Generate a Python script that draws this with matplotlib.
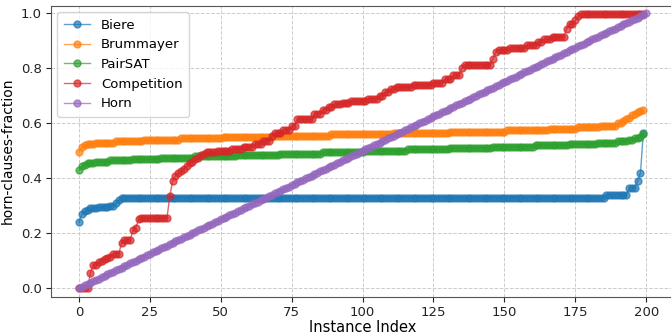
import numpy as np
import matplotlib
matplotlib.use("Agg")
import matplotlib.pyplot as plt

# Run-length encoded sorted series (level, repeat count)
biere_levels = [0.24, 0.27, 0.28, 0.285, 0.29, 0.295, 0.30, 0.31, 0.32, 0.33, 0.34, 0.365, 0.39, 0.42, 0.565]
biere_counts = [1, 1, 1, 1, 3, 4, 2, 1, 1, 171, 8, 3, 1, 1, 1]

brum_levels = [0.495, 0.515, 0.52, 0.525, 0.53, 0.535, 0.54, 0.545, 0.55, 0.555, 0.56, 0.565, 0.57,
               0.575, 0.58, 0.585, 0.59, 0.60, 0.61, 0.615, 0.62, 0.63, 0.635, 0.64, 0.645, 0.65]
brum_counts = [1, 1, 1, 3, 7, 10, 13, 15, 18, 20, 22, 20, 20, 15, 10, 8, 6, 2, 1, 1, 1, 1, 1, 1, 1, 1]

pair_levels = [0.43, 0.445, 0.45, 0.455, 0.46, 0.465, 0.47, 0.475, 0.48, 0.485, 0.49, 0.495, 0.50,
               0.505, 0.51, 0.515, 0.52, 0.525, 0.53, 0.535, 0.54, 0.545, 0.55, 0.56]
pair_counts = [1, 1, 1, 3, 5, 8, 10, 12, 15, 15, 15, 15, 15, 15, 15, 15, 12, 10, 7, 4, 2, 2, 1, 1]

comp_levels = [0.0, 0.055, 0.085, 0.095, 0.10, 0.105, 0.11, 0.115, 0.125, 0.165, 0.175, 0.21, 0.22,
               0.25, 0.255, 0.335, 0.39, 0.41, 0.42, 0.425, 0.435, 0.445, 0.455, 0.46, 0.47, 0.475,
               0.485, 0.49, 0.495, 0.50, 0.505, 0.515, 0.525, 0.535, 0.555, 0.565, 0.575, 0.59,
               0.615, 0.635, 0.65, 0.66, 0.67, 0.675, 0.68, 0.69, 0.70, 0.715, 0.725, 0.732, 0.74,
               0.748, 0.76, 0.775, 0.80, 0.814, 0.835, 0.86, 0.868, 0.875, 0.885, 0.895, 0.905,
               0.915, 0.945, 0.96, 0.975, 0.99, 0.998]
comp_counts = [4, 1, 2, 1, 1, 1, 1, 1, 3, 1, 3, 1, 1,
               1, 10, 1, 1, 1, 1, 1, 1, 1, 1, 1, 1, 1,
               1, 1, 4, 5, 4, 4, 3, 3, 1, 3, 3, 2,
               6, 3, 2, 2, 3, 3, 6, 4, 2, 2, 2, 6, 7,
               4, 3, 3, 1, 10, 1, 1, 4, 6, 4, 2, 3,
               5, 1, 2, 1, 1, 23]

horn_values = [
    0.0, .005, .01, .015, .02, .025, .03, .035, .04, .045,
    .05, .055, .06, .065, .07, .075, .08, .085, .09, .095,
    .10, .105, .11, .115, .12, .125, .13, .135, .14, .145,
    .15, .155, .16, .165, .17, .175, .18, .185, .19, .195,
    .20, .205, .21, .215, .22, .225, .23, .235, .24, .245,
    .25, .255, .26, .265, .27, .275, .28, .285, .29, .295,
    .30, .305, .31, .315, .32, .325, .33, .335, .34, .345,
    .35, .355, .36, .365, .37, .375, .38, .385, .39, .395,
    .40, .405, .41, .415, .42, .425, .43, .435, .44, .445,
    .45, .455, .46, .465, .47, .475, .48, .485, .49, .495,
    .50, .505, .51, .515, .52, .525, .53, .535, .54, .545,
    .55, .555, .56, .565, .57, .575, .58, .585, .59, .595,
    .60, .605, .61, .615, .62, .625, .63, .635, .64, .645,
    .65, .655, .66, .665, .67, .675, .68, .685, .69, .695,
    .70, .705, .71, .715, .72, .725, .73, .735, .74, .745,
    .75, .755, .76, .765, .77, .775, .78, .785, .79, .795,
    .80, .805, .81, .815, .82, .825, .83, .835, .84, .845,
    .85, .855, .86, .865, .87, .875, .88, .885, .89, .895,
    .90, .905, .91, .915, .92, .925, .93, .935, .94, .945,
    .95, .955, .96, .965, .97, .975, .98, .985, .99, .995,
    1.0]

series_names = ["Biere", "Brummayer", "PairSAT", "Competition", "Horn"]
x_ticks = [0, 25, 50, 75, 100, 125, 150, 175, 200]
y_ticks = [0.0, 0.2, 0.4, 0.6, 0.8, 1.0]

series = [
    np.repeat(biere_levels, biere_counts),
    np.repeat(brum_levels, brum_counts),
    np.repeat(pair_levels, pair_counts),
    np.repeat(comp_levels, comp_counts),
    np.array(horn_values),
]

fig = plt.figure(figsize=(6.71, 3.36), dpi=100)
W, H = 671, 336
left_px, right_px, top_px, bot_px = 50.7, 674.5, 5.7, 296.7
ax = fig.add_axes([left_px / W, 1 - bot_px / H, (right_px - left_px) / W, (bot_px - top_px) / H])

colors = ["#1f77b4", "#ff7f0e", "#2ca02c", "#d62728", "#9467bd"]
for name, vals, c in zip(series_names, series, colors):
    ax.plot(np.arange(len(vals)), vals, marker="o", markersize=5, linewidth=1.0,
            color=c, alpha=0.7, label=name)

ax.set_xlim(-10, 210)
ax.set_ylim(-0.031, 1.028)
ax.set_xticks(x_ticks)
ax.set_yticks(y_ticks)
ax.set_yticklabels([f"{t:.1f}" for t in y_ticks])
ax.tick_params(labelsize=9.5, colors="#222222", pad=3)
ax.grid(True, linestyle="--", color="#cccccc", linewidth=0.7)
for s in ax.spines.values():
    s.set_color("#555555")
ax.set_xlabel("Instance Index", fontsize=10.5, labelpad=1)
ax.set_ylabel("horn-clauses-fraction", fontsize=10, labelpad=4)
ax.legend(loc="upper left", fontsize=9.5, framealpha=0.8, borderpad=0.5,
          handlelength=2.0, bbox_to_anchor=(0.0, 1.0))

fig.savefig("out.png", dpi=100)
